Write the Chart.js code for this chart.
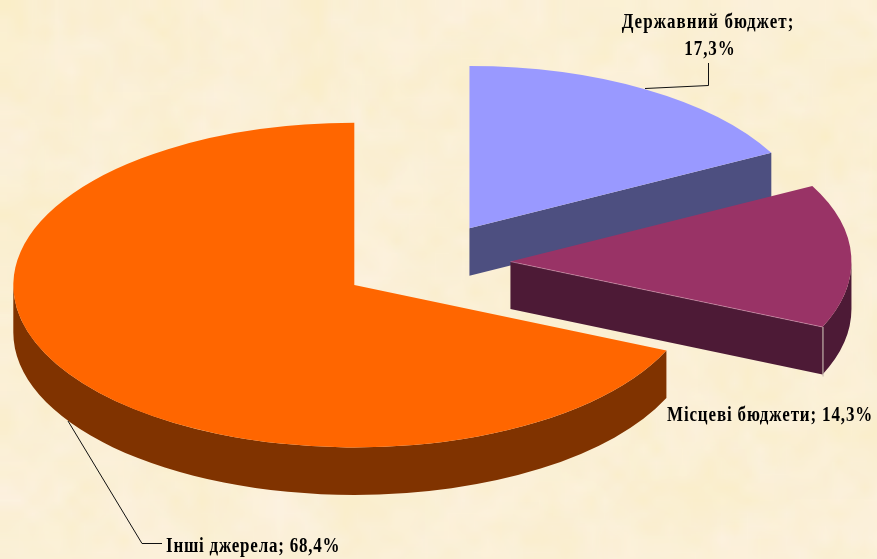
<!DOCTYPE html>
<html lang="uk">
<head>
<meta charset="utf-8">
<style>html,body{margin:0;padding:0;background:#fcf2da;overflow:hidden}canvas{display:block}</style>
<script src="https://cdn.jsdelivr.net/npm/chart.js@4"></script>
</head>
<body>
<canvas id="c" width="877" height="559"></canvas>
<script>
const categories = ['Державний бюджет', 'Місцеві бюджети', 'Інші джерела'];
const shares = [17.3, 14.3, 68.4];
const valueLabels = ['17,3%', '14,3%', '68,4%'];
const topColors = ['#9999ff', '#993366', '#ff6600'];
const sideColors = ['#4d4f80', '#4d1a36', '#803300'];

const SQUASH = 0.476, DEPTH = 47.5, EXPLODE = 85, RADIUS = 341;
const FONT = 'bold 20px "Liberation Serif", serif';
const TEXT_SX = 0.85;

function hash(x, y) { const s = Math.sin(x * 12.9898 + y * 78.233) * 43758.5453; return s - Math.floor(s); }

const parchment = {
  id: 'parchment',
  beforeDraw(chart) {
    const { ctx, width, height } = chart;
    const layer = (cell, paint, alpha) => {
      const off = document.createElement('canvas');
      const w = Math.ceil(width / cell) + 1, h = Math.ceil(height / cell) + 1;
      off.width = w; off.height = h;
      const o = off.getContext('2d');
      for (let y = 0; y < h; y++) for (let x = 0; x < w; x++) {
        o.fillStyle = paint(hash(x + cell, y), hash(x + 31, y + 17 + cell));
        o.fillRect(x, y, 1, 1);
      }
      ctx.globalAlpha = alpha;
      ctx.imageSmoothingEnabled = true;
      ctx.drawImage(off, 0, 0, w * cell, h * cell);
    };
    ctx.save();
    layer(13, (a, b) => `rgb(${253 - 3 * a},${243 - 5 * a},${218 - 18 * a * a + 9 * b})`, 1);
    layer(37, (a, b) => `rgb(${252 - 3 * a},${241 - 4 * a},${216 - 22 * a + 8 * b})`, 0.5);
    ctx.restore();
  }
};

function strokePoly(ctx, pts) {
  ctx.beginPath();
  pts.forEach((p, i) => i ? ctx.lineTo(p[0], p[1]) : ctx.moveTo(p[0], p[1]));
  ctx.stroke();
}

function label(ctx, text, x, y, align, spacing) {
  ctx.save();
  ctx.translate(x, y);
  ctx.scale(TEXT_SX, 1);
  ctx.textAlign = align;
  ctx.letterSpacing = spacing;
  ctx.fillText(text, 0, 0);
  ctx.restore();
}

const pie3d = {
  id: 'pie3d',
  beforeDatasetsDraw(chart) {
    const { ctx } = chart;
    const arcs = chart.getDatasetMeta(0).data;
    arcs.forEach((arc, i) => {
      const mid = (arc.startAngle + arc.endAngle) / 2;
      const dx = Math.cos(mid) * EXPLODE, dy = Math.sin(mid) * EXPLODE;
      const cx = arc.x + dx, cy = arc.y + dy * SQUASH;
      const R = arc.outerRadius, Ry = R * SQUASH;
      const a = arc.startAngle, b = arc.endAngle;
      const px = (t) => cx + Math.cos(t) * R, py = (t) => cy + Math.sin(t) * Ry;

      ctx.save();
      ctx.fillStyle = sideColors[i];
      const from = Math.max(a, 0), to = Math.min(b, Math.PI);
      if (to > from) {
        ctx.beginPath();
        ctx.ellipse(cx, cy, R, Ry, 0, from, to, false);
        ctx.ellipse(cx, cy + DEPTH, R, Ry, 0, to, from, true);
        ctx.closePath();
        ctx.fill();
      }
      const wall = (t) => {
        ctx.beginPath();
        ctx.moveTo(cx, cy); ctx.lineTo(px(t), py(t));
        ctx.lineTo(px(t), py(t) + DEPTH); ctx.lineTo(cx, cy + DEPTH);
        ctx.closePath();
        ctx.fill();
      };
      if (Math.cos(a) < -1e-6) wall(a);
      if (Math.cos(b) > 1e-6) wall(b);
      ctx.restore();

      ctx.save();
      ctx.translate(dx, arc.y);
      ctx.scale(1, SQUASH);
      ctx.translate(0, -arc.y + dy);
      arc.draw(ctx);
      ctx.restore();

      if (i === 1) {
        ctx.save();
        ctx.lineWidth = 1;
        ctx.strokeStyle = '#c4b4ac';
        strokePoly(ctx, [[px(b) + .5, py(b)], [px(b) + .5, py(b) + DEPTH + 2]]);
        ctx.strokeStyle = 'rgba(225,170,195,.7)';
        ctx.lineWidth = .7;
        strokePoly(ctx, [[cx, cy], [px(b), py(b)]]);
        ctx.restore();
      }
    });

    ctx.save();
    ctx.strokeStyle = '#111';
    ctx.lineWidth = 1;
    strokePoly(ctx, [[645, 88.5], [708.5, 85.5], [708.5, 63]]);
    strokePoly(ctx, [[68, 421], [142, 543.5], [162, 543.5]]);
    ctx.fillStyle = '#000';
    ctx.font = FONT;
    ctx.textBaseline = 'alphabetic';
    label(ctx, categories[0] + ';', 708, 28, 'center', '1.2px');
    label(ctx, valueLabels[0], 710, 55, 'center', '1.1px');
    label(ctx, categories[1] + '; ' + valueLabels[1], 667, 421, 'left', '1px');
    label(ctx, categories[2] + '; ' + valueLabels[2], 166, 552, 'left', '0.9px');
    ctx.restore();
    return false;
  }
};

new Chart(document.getElementById('c'), {
  type: 'pie',
  data: {
    labels: categories,
    datasets: [{ data: shares, backgroundColor: topColors, borderWidth: 0 }]
  },
  options: {
    responsive: false,
    animation: false,
    radius: RADIUS,
    layout: { padding: { right: 26, bottom: 33 } },
    plugins: { legend: { display: false }, tooltip: { enabled: false } }
  },
  plugins: [parchment, pie3d]
});
</script>
</body>
</html>
